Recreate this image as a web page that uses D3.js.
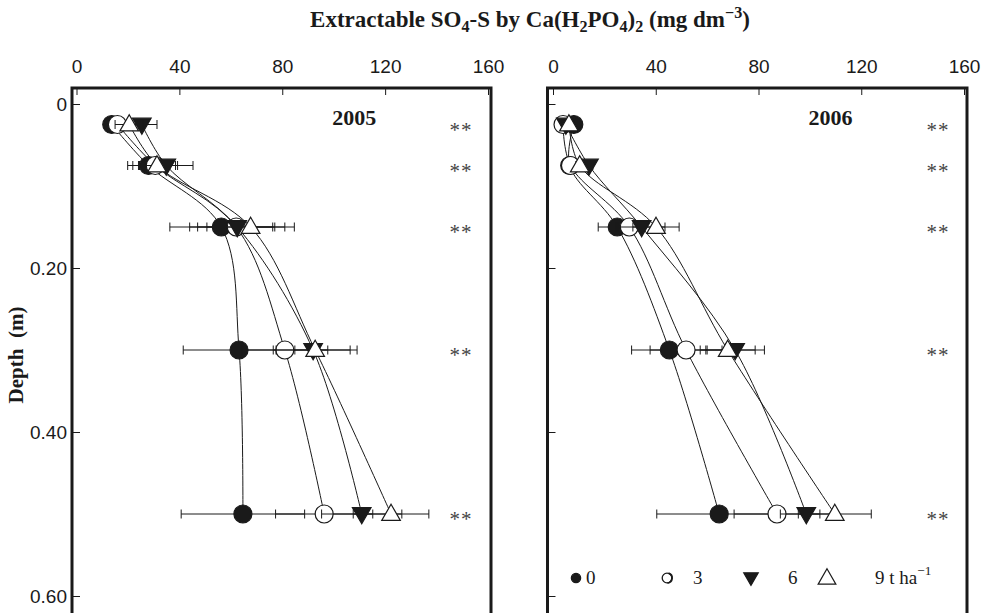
<!DOCTYPE html>
<html>
<head>
<meta charset="utf-8">
<script src="https://cdn.jsdelivr.net/npm/d3@7"></script>
<style>
  body { margin: 0; background: #fff; }
  svg { font-family: "Liberation Serif", "Times New Roman", serif; }
</style>
</head>
<body>
<div id="chart"></div>
<script>
// Sampling depths (m)
const depths = [0.025, 0.075, 0.15, 0.30, 0.50]

// Gypsum rates (t ha-1)
const rates = ['0', '3', '6', '9']

// 2005 means (mg dm-3) for each rate
const y2005_r0 = [13.7, 28.0, 56.3, 63.2, 64.7]
const y2005_r3 = [15.9, 30.6, 62.1, 81.0, 96.3]
const y2005_r6 = [25.4, 34.9, 62.5, 92.0, 110.9]
const y2005_r9 = [20.5, 31.3, 67.7, 92.8, 122.3]

// 2005 error bars
const e2005_r0 = [1, 8.1, 20, 21.7, 24]
const e2005_r3 = [1, 8.7, 15, 16.7, 18.9]
const e2005_r6 = [5.9, 10.4, 18.5, 14.4, 15.6]
const e2005_r9 = [5.5, 7.2, 17, 16.3, 14.7]

// 2006 means
const y2006_r0 = [8.1, 6.5, 25.0, 45.3, 64.7]
const y2006_r3 = [3.9, 6.8, 29.7, 51.8, 87.2]
const y2006_r6 = [5.0, 14.0, 34.5, 70.9, 98.6]
const y2006_r9 = [6.2, 10.4, 40.1, 68.0, 109.7]

// 2006 error bars
const e2006_r0 = [1, 1, 7.4, 14.7, 24.3]
const e2006_r3 = [1, 1, 5, 14, 16.7]
const e2006_r6 = [1, 1.5, 9.1, 11.4, 10.1]
const e2006_r9 = [1, 1.5, 9, 10.7, 14.2]

// significance marks per depth
const signif = ['**', '**', '**', '**', '**']

const xTicks = [0, 40, 80, 120, 160]
const yTicks = [0, 0.2, 0.4, 0.6]

const width = 984, height = 613
const ink = '#1a1a1a'

const svg = d3.select('#chart').append('svg')
    .attr('width', width)
    .attr('height', height)

// add text with sub/superscripts (shift carried to next piece)
function richText(sel, parts) {
    let back = 0
    parts.forEach(p => {
        let t = sel.append('tspan').text(p[0])
        let shift = p[1] == 'sub' ? 5 : (p[1] == 'sup' ? -9 : 0)
        if (shift || back) t.attr('dy', shift + back)
        if (shift) t.attr('font-size', '0.7em')
        back = -shift
    })
}

// Title
let title = svg.append('text')
    .attr('x', 530)
    .attr('y', 27)
    .attr('text-anchor', 'middle')
    .attr('font-weight', 'bold')
    .attr('font-size', 23)
    .attr('fill', ink)
richText(title, [['Extractable SO'], ['4', 'sub'], ['-S by Ca(H'], ['2', 'sub'], ['PO'], ['4', 'sub'], [')'], ['2', 'sub'], [' (mg dm'], ['\u22123', 'sup'], [')']])

// Depth label
svg.append('text')
    .attr('transform', 'translate(23,355) rotate(-90)')
    .attr('text-anchor', 'middle')
    .attr('font-weight', 'bold')
    .attr('font-size', 21)
    .attr('fill', ink)
    .style('white-space', 'pre')
    .text('Depth  (m)')

const yScale = d3.scaleLinear().domain([0, 0.6]).range([104, 596])

const panels = [
    { year: '2005', means: [y2005_r0, y2005_r3, y2005_r6, y2005_r9], errs: [e2005_r0, e2005_r3, e2005_r6, e2005_r9],
      x0: 76.5, x1: 488, left: 72, right: 491, starX: 461, labels: true },
    { year: '2006', means: [y2006_r0, y2006_r3, y2006_r6, y2006_r9], errs: [e2006_r0, e2006_r3, e2006_r6, e2006_r9],
      x0: 553, x1: 964, left: 547.5, right: 967, starX: 938, labels: false }
]

const frameTop = 88

// marker drawing by rate index
function marker(g, i, x, y, scale) {
    let s = scale || 1
    if (i == 0 || i == 1) {
        g.append('circle')
            .attr('cx', x).attr('cy', y).attr('r', 9 * s)
            .attr('fill', i == 0 ? ink : '#fff')
            .attr('stroke', ink).attr('stroke-width', 1.2)
    } else {
        g.append('path')
            .attr('d', d3.symbol().type(d3.symbolTriangle).size(150 * s * s)())
            .attr('transform', `translate(${x},${y + (i == 2 ? -1 : 1)}) rotate(${i == 2 ? 180 : 0})`)
            .attr('fill', i == 2 ? ink : '#fff')
            .attr('stroke', ink).attr('stroke-width', 1.2)
    }
}

panels.forEach(p => {
    let xScale = d3.scaleLinear().domain([0, 160]).range([p.x0, p.x1])
    let g = svg.append('g')

    // x axis (labels above the frame, ticks inward)
    let xAxis = d3.axisTop(xScale).tickValues(xTicks).tickSize(-7).tickPadding(15).tickFormat(d3.format('d'))
    g.append('g')
        .attr('transform', `translate(0,${frameTop})`)
        .call(xAxis)
        .call(a => a.select('.domain').remove())
        .call(a => a.selectAll('text').attr('font-size', 19).attr('font-family', null).attr('fill', ink))
        .call(a => a.selectAll('line').attr('stroke', ink))

    // y axis
    let yAxis = d3.axisLeft(yScale).tickValues(yTicks).tickSize(-8).tickPadding(5)
        .tickFormat(d => d == 0 ? '0' : d3.format('.2f')(d))
    let ya = g.append('g')
        .attr('transform', `translate(${p.left},0)`)
        .call(yAxis)
        .call(a => a.select('.domain').remove())
        .call(a => a.selectAll('text').attr('font-size', 19).attr('font-family', null).attr('fill', ink))
        .call(a => a.selectAll('line').attr('stroke', ink))
    if (!p.labels) ya.selectAll('text').remove()

    // frame
    g.append('path')
        .attr('d', `M${p.left},${height + 10}V${frameTop}H${p.right}V${height + 10}`)
        .attr('fill', 'none')
        .attr('stroke', ink)
        .attr('stroke-width', 3)

    // year label
    g.append('text')
        .attr('x', (p.x0 + p.x1) / 2 + 72)
        .attr('y', 125)
        .attr('text-anchor', 'middle')
        .attr('font-weight', 'bold')
        .attr('font-size', 22)
        .attr('fill', ink)
        .text(p.year)

    // significance
    g.selectAll('.star')
        .data(signif)
        .join('text')
        .attr('x', p.starX)
        .attr('y', (d, i) => yScale(depths[i]) + 12)
        .attr('text-anchor', 'middle')
        .attr('font-size', 21)
        .attr('letter-spacing', 1)
        .attr('fill', '#444')
        .text(d => d)

    // curves
    let line = d3.line()
        .x(d => xScale(d[0]))
        .y(d => yScale(d[1]))
        .curve(d3.curveCatmullRom.alpha(0.5))

    p.means.forEach(m => {
        g.append('path')
            .attr('d', line(m.map((v, i) => [v, depths[i]])))
            .attr('fill', 'none')
            .attr('stroke', ink)
            .attr('stroke-width', 1)
    })

    // error bars + markers, series by series
    p.means.forEach((m, k) => {
        m.forEach((v, i) => {
            let cy = yScale(depths[i])
            let xa = xScale(v - p.errs[k][i]), xb = xScale(v + p.errs[k][i])
            g.append('path')
                .attr('d', `M${xa},${cy}H${xb}M${xa},${cy - 4.5}V${cy + 4.5}M${xb},${cy - 4.5}V${cy + 4.5}`)
                .attr('stroke', ink)
                .attr('stroke-width', 1)
                .attr('fill', 'none')
            marker(g, k, xScale(v), cy)
        })
    })
})

// legend in 2006 panel
const legendY = 578
const legendSym = [576, 667, 751, 827]
const legendTxt = [586, 693, 788, 875]
const leg = svg.append('g')
rates.forEach((r, i) => {
    if (i == 1) {
        leg.append('circle').attr('cx', legendSym[i]).attr('cy', legendY).attr('r', 4.8)
            .attr('fill', '#fff').attr('stroke', ink).attr('stroke-width', 1.3)
        leg.append('path')
            .attr('d', d3.arc()({ innerRadius: 4.2, outerRadius: 6, startAngle: 0.3, endAngle: Math.PI - 0.1 }))
            .attr('transform', `translate(${legendSym[i]},${legendY})`)
            .attr('fill', ink)
    } else {
        marker(leg, i, legendSym[i], legendY, i == 0 ? 0.52 : (i == 2 ? 0.78 : 0.95))
    }
    let t = leg.append('text')
        .attr('x', legendTxt[i])
        .attr('y', 584)
        .attr('font-size', 19)
        .attr('fill', ink)
    if (i == 3) richText(t, [[r + ' t ha'], ['\u22121', 'sup']])
    else t.text(r)
})
</script>
</body>
</html>
